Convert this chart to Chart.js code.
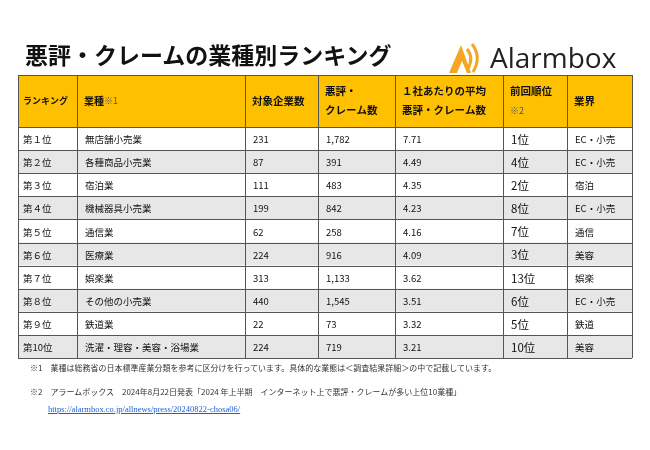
<!DOCTYPE html>
<html><head><meta charset="utf-8">
<script src="https://cdn.jsdelivr.net/npm/chart.js@4"></script>
<style>
body{margin:0;background:#fff;font-family:"Noto Sans CJK JP",sans-serif;}
#wrap{position:relative;width:650px;height:450px;}
canvas{position:absolute;left:0;top:0;}
.t{position:absolute;white-space:nowrap;}
</style></head><body>
<div id="wrap">
<canvas id="c" width="650" height="450"></canvas>
<div class="t" style="left:25px;top:37px;font-size:23px;font-weight:bold;color:#111;">悪評・クレームの業種別ランキング</div>
<svg class="t" style="left:447px;top:41px" width="40" height="34" viewBox="0 0 40 34">
<path d="M2 32 L14 4 L24 32 Z" fill="#f5a623"/>
<path d="M10 32 L15 20 L20 32 Z" fill="#fff"/>
<path d="M20 8 Q27 16 21 28" stroke="#f5a623" stroke-width="3" fill="none"/>
<path d="M25 3 Q35 16 26 31" stroke="#f5a623" stroke-width="3" fill="none"/>
</svg>
<div class="t" style="left:490px;top:38px;font-size:28px;font-family:'Open Sans',sans-serif;color:#222;">Alarmbox</div>
<div class="t" style="left:30px;top:362px;font-size:8px;color:#333;">※1　業種は総務省の日本標準産業分類を参考に区分けを行っています。具体的な業態は＜調査結果詳細＞の中で記載しています。</div>
<div class="t" style="left:30px;top:386px;font-size:8px;color:#333;">※2　アラームボックス　2024年8月22日発表「2024 年上半期　インターネット上で悪評・クレームが多い上位10業種」</div>
<div class="t" style="left:48px;top:404px;font-size:8.5px;color:#1a5fd0;text-decoration:underline;font-family:'Liberation Serif',serif;">https://alarmbox.co.jp/allnews/press/20240822-chosa06/</div>
</div>
<script>
const headers = ["ランキング","業種※1","対象企業数","悪評・\nクレーム数","１社あたりの平均\n悪評・クレーム数","前回順位\n※2","業界"];
const ranks = ["第１位","第２位","第３位","第４位","第５位","第６位","第７位","第８位","第９位","第10位"];
const industries = ["無店舗小売業","各種商品小売業","宿泊業","機械器具小売業","通信業","医療業","娯楽業","その他の小売業","鉄道業","洗濯・理容・美容・浴場業"];
const companies = [231,87,111,199,62,224,313,440,22,224];
const complaints = [1782,391,483,842,258,916,1133,1545,73,719];
const averages = [7.71,4.49,4.35,4.23,4.16,4.09,3.62,3.51,3.32,3.21];
const prevRanks = ["1位","4位","2位","8位","7位","3位","13位","6位","5位","10位"];
const sectors = ["EC・小売","EC・小売","宿泊","EC・小売","通信","美容","娯楽","EC・小売","鉄道","美容"];

const colX = [18,77,245,318,395,503,567,632];
const HEAD_TOP = 75;

const tablePlugin = {
  id:'table',
  beforeDatasetsDraw(chart){
    const {ctx, chartArea:a, scales:{y}} = chart;
    const n = ranks.length;
    const rowH = (a.bottom - a.top)/n;
    ctx.save();
    ctx.fillStyle = '#ffc000';
    ctx.fillRect(a.left, HEAD_TOP, a.right-a.left, a.top-HEAD_TOP);
    for(let i=0;i<n;i++){
      const cy = y.getPixelForValue(i);
      ctx.fillStyle = i%2 ? '#e7e7e7' : '#ffffff';
      ctx.fillRect(a.left, cy-rowH/2, a.right-a.left, rowH);
    }
    ctx.strokeStyle = '#555'; ctx.lineWidth = 1;
    ctx.beginPath();
    ctx.moveTo(a.left, HEAD_TOP+0.5); ctx.lineTo(a.right, HEAD_TOP+0.5);
    for(let i=0;i<=n;i++){
      const yy = Math.round(a.top + i*rowH)+0.5;
      ctx.moveTo(a.left,yy); ctx.lineTo(a.right,yy);
    }
    colX.forEach(x=>{ctx.moveTo(x+0.5,HEAD_TOP); ctx.lineTo(x+0.5,a.bottom);});
    ctx.stroke();
    ctx.fillStyle = '#111';
    ctx.textBaseline = 'middle';
    const hm = (HEAD_TOP + a.top)/2;
    headers.forEach((h,j)=>{
      const lines = h.split('\n');
      lines.forEach((ln,k)=>{
        const yy = hm + (k-(lines.length-1)/2)*19;
        const x0 = colX[j] + (j===0?5:7);
        if(ln.includes('※')){
          const base = ln.replace(/※.*/,'');
          const mark = ln.slice(base.length);
          ctx.font = 'bold 10px "Noto Sans CJK JP"';
          ctx.fillText(base, x0, yy);
          const w = ctx.measureText(base).width;
          ctx.font = '9px "Noto Sans CJK JP"'; ctx.fillStyle = '#555';
          ctx.fillText(mark, x0+w, yy); ctx.fillStyle = '#111';
        } else {
          ctx.font = (j===0?'bold 9px':'bold 10.5px') + ' "Noto Sans CJK JP"';
          ctx.fillText(ln, x0, yy);
        }
      });
    });
    for(let i=0;i<n;i++){
      const cy = y.getPixelForValue(i)+1;
      const cells = [ranks[i], industries[i], String(companies[i]), complaints[i].toLocaleString('en-US'), averages[i].toFixed(2), prevRanks[i], sectors[i]];
      cells.forEach((t,j)=>{
        ctx.font = (j===5 ? '11.5px' : '9.5px') + ' "Noto Sans CJK JP"';
        ctx.fillStyle = '#111';
        ctx.fillText(t, colX[j] + (j===0?5:8), cy);
      });
    }
    ctx.restore();
  }
};

new Chart(document.getElementById('c'), {
  type:'bar',
  data:{labels:ranks, datasets:[{data:averages, backgroundColor:'rgba(0,0,0,0)', borderWidth:0}]},
  options:{
    indexAxis:'y', responsive:false, animation:false,
    layout:{padding:{top:127,bottom:92,left:18,right:18}},
    plugins:{legend:{display:false},tooltip:{enabled:false}},
    scales:{x:{display:false,min:0},y:{display:false}}
  },
  plugins:[tablePlugin]
});
</script>
</body></html>
